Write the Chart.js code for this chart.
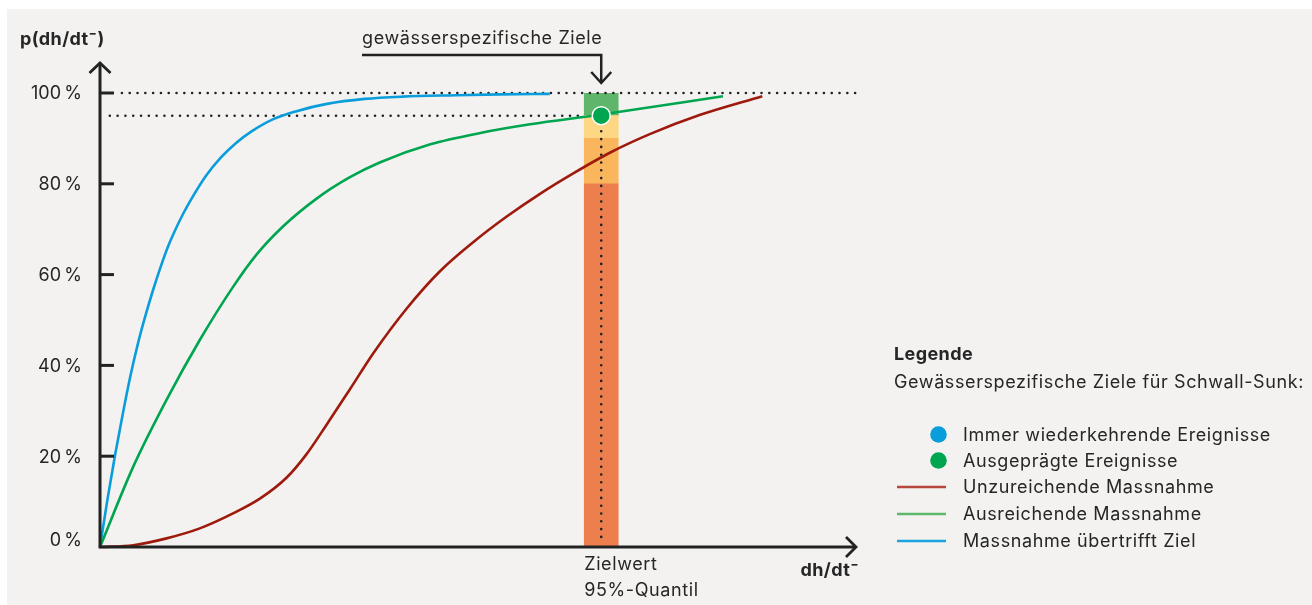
<!DOCTYPE html>
<html>
<head>
<meta charset="utf-8">
<script src="https://cdn.jsdelivr.net/npm/chart.js@4.4.1/dist/chart.umd.min.js"></script>
<style>
  html, body { margin: 0; padding: 0; background: #fff; }
  canvas { display: block; }
</style>
</head>
<body>
<canvas id="grafik" width="1312" height="605"></canvas>
<script>
// Werte (x: 0..100 relative dh/dt-, y: Prozent)
const yTicks = [0, 20, 40, 60, 80, 100];
const yTickLabels = ['0\u2009%', '20\u2009%', '40\u2009%', '60\u2009%', '80\u2009%', '100\u2009%'];

const zielwert = 66.3;
const zielQuantil = 95;
const zielBereiche = [[0, 80], [80, 90], [90, 95], [95, 100]];

const blauX = [0, 1, 2, 3, 4, 5, 6, 7, 8, 9, 10, 11, 12, 14, 16, 18, 20, 23, 26, 30, 35, 40, 47, 53, 59.5];
const blauY = [0, 10.6, 20.3, 29.2, 37.5, 44.7, 50.9, 56.5, 61.6, 66.2, 70.0, 73.4, 76.4, 81.7, 85.8, 89.0, 91.5, 94.3, 96.0, 97.6, 98.7, 99.2, 99.5, 99.7, 99.8];

const gruenX = [0, 4.4, 8.8, 13.2, 17.6, 20.7, 24.2, 28.7, 33.0, 37.0, 43.7, 50.3, 56.9, 66.1, 82.4];
const gruenY = [0, 17.7, 32.4, 45.6, 57.3, 64.4, 70.6, 76.8, 81.4, 84.7, 88.7, 91.2, 93.1, 95.2, 99.3];

const rotX = [0, 4.4, 8.8, 13.2, 17.6, 21.2, 24.7, 27.3, 30.0, 33.0, 36.2, 40.6, 45.0, 49.4, 53.8, 58.2, 62.6, 67.5, 72.8, 79.4, 87.6];
const rotY = [0, 0.4, 1.9, 4.1, 7.4, 10.7, 15.3, 20.4, 27.0, 34.6, 42.8, 52.6, 60.8, 67.2, 72.8, 77.8, 82.3, 86.9, 91.0, 95.2, 99.3];

const legendeTitel = 'Legende';
const legendeUntertitel = 'Gewässerspezifische Ziele für Schwall-Sunk:';
const legendeEintraege = [
  'Immer wiederkehrende Ereignisse',
  'Ausgeprägte Ereignisse',
  'Unzureichende Massnahme',
  'Ausreichende Massnahme',
  'Massnahme übertrifft Ziel'
];

const punkte = (xs, ys) => xs.map((x, i) => ({ x: x, y: ys[i] }));

const FONT = "Inter, 'DejaVu Sans', sans-serif";
const TEXT = '#262626';

const bereichFarben = ['#ed7f4f', '#f9b65c', '#fed785', '#5fb66a'];

const achsenPlugin = {
  id: 'achsen',
  beforeDraw(chart) {
    const ctx = chart.ctx;
    ctx.save();
    ctx.fillStyle = '#ffffff';
    ctx.fillRect(0, 0, chart.width, chart.height);
    ctx.fillStyle = '#f3f2f1';
    ctx.fillRect(7, 9, chart.width - 7, chart.height - 9);
    ctx.restore();
  },
  afterDatasetsDraw(chart) {
    const ctx = chart.ctx;
    const xs = chart.scales.x, ys = chart.scales.y;
    const x0 = xs.getPixelForValue(0), y0 = ys.getPixelForValue(0);
    const yTop = ys.getPixelForValue(100) - 30;
    const xEnd = xs.right;
    const zx = xs.getPixelForValue(zielwert);

    ctx.save();
    ctx.strokeStyle = '#222';
    ctx.fillStyle = TEXT;
    ctx.lineWidth = 3;

    // Achsen
    ctx.beginPath();
    ctx.moveTo(x0, y0 + 1.5);
    ctx.lineTo(x0, yTop);
    ctx.moveTo(x0 - 1.5, y0);
    ctx.lineTo(xEnd, y0);
    ctx.stroke();

    // Pfeilspitzen
    ctx.lineWidth = 2.8;
    ctx.beginPath();
    ctx.moveTo(x0 - 10.5, yTop + 10);
    ctx.lineTo(x0, yTop);
    ctx.lineTo(x0 + 10.5, yTop + 10);
    ctx.moveTo(xEnd - 10, y0 - 10);
    ctx.lineTo(xEnd, y0);
    ctx.lineTo(xEnd - 10, y0 + 10);
    ctx.stroke();

    // Ticks + Beschriftung
    ctx.lineWidth = 3;
    ctx.font = '18px ' + FONT;
    ctx.textAlign = 'right';
    ctx.textBaseline = 'middle';
    yTicks.forEach((v, i) => {
      const py = ys.getPixelForValue(v);
      if (v > 0) {
        ctx.beginPath();
        ctx.moveTo(x0, py);
        ctx.lineTo(x0 + 14, py);
        ctx.stroke();
      }
      ctx.fillText(yTickLabels[i], x0 - 18, v === 0 ? py - 6 : py + 1);
    });

    // Achsentitel
    ctx.letterSpacing = '0.4px';
    ctx.font = 'bold 18px ' + FONT;
    ctx.textAlign = 'left';
    ctx.textBaseline = 'alphabetic';
    ctx.fillText('p(dh/dt\u207B)', 20, 45);
    ctx.textAlign = 'right';
    ctx.fillText('dh/dt\u207B', xEnd + 3, 576);

    // Zielwert-Beschriftung
    ctx.letterSpacing = '0.6px';
    ctx.font = '18px ' + FONT;
    ctx.textAlign = 'left';
    ctx.fillText('Zielwert', zx - 17, 570);
    ctx.fillText('95%-Quantil', zx - 17, 596);

    // Hinweis oben
    ctx.fillText('gewässerspezifische Ziele', 362, 44);
    ctx.lineWidth = 2.5;
    ctx.beginPath();
    ctx.moveTo(362, 55);
    ctx.lineTo(zx, 55);
    ctx.lineTo(zx, 83);
    ctx.moveTo(zx - 10, 72);
    ctx.lineTo(zx, 83);
    ctx.lineTo(zx + 10, 72);
    ctx.stroke();

    // Legende
    const lx = 894;
    ctx.letterSpacing = '0.4px';
    ctx.font = 'bold 18px ' + FONT;
    ctx.fillText(legendeTitel, lx, 360);
    ctx.letterSpacing = '0.6px';
    ctx.font = '18px ' + FONT;
    ctx.fillText(legendeUntertitel, lx, 388);
    const zeilen = [441, 467, 493, 520, 547];
    const symbole = [
      { art: 'punkt', farbe: '#0a9ddb' },
      { art: 'punkt', farbe: '#00a550' },
      { art: 'linie', farbe: '#b8483c' },
      { art: 'linie', farbe: '#5cb86a' },
      { art: 'linie', farbe: '#1aa3dc' }
    ];
    legendeEintraege.forEach((txt, i) => {
      const by = zeilen[i];
      const s = symbole[i];
      if (s.art === 'punkt') {
        ctx.fillStyle = s.farbe;
        ctx.beginPath();
        ctx.arc(938.5, by - 6.5, 8.3, 0, Math.PI * 2);
        ctx.fill();
      } else {
        ctx.strokeStyle = s.farbe;
        ctx.lineWidth = 2.5;
        ctx.beginPath();
        ctx.moveTo(897, by - 6);
        ctx.lineTo(946, by - 6);
        ctx.stroke();
      }
      ctx.fillStyle = TEXT;
      ctx.fillText(txt, 963, by);
    });
    ctx.restore();
  }
};

const balken = zielBereiche.map((b, i) => ({
  type: 'bar',
  data: [{ x: zielwert, y: b }],
  backgroundColor: bereichFarben[i],
  borderWidth: 0,
  barThickness: 34,
  grouped: false,
  order: 10
}));

const punktLinie = (data) => ({
  type: 'line',
  data: data,
  borderColor: '#222',
  borderWidth: 2.6,
  borderDash: [0, 7.8],
  borderCapStyle: 'round',
  pointRadius: 0,
  fill: false,
  clip: false,
  order: 5
});

const kurve = (data, farbe) => ({
  type: 'line',
  data: data,
  borderColor: farbe,
  borderWidth: 2.6,
  cubicInterpolationMode: 'monotone',
  pointRadius: 0,
  fill: false,
  clip: false,
  order: 2
});

new Chart(document.getElementById('grafik'), {
  type: 'line',
  data: {
    datasets: [
      ...balken,
      punktLinie([{ x: 2.9, y: 100 }, { x: 99.9, y: 100 }]),
      punktLinie([{ x: 1.3, y: zielQuantil }, { x: 63.9, y: zielQuantil }]),
      punktLinie([{ x: zielwert, y: zielQuantil }, { x: zielwert, y: 0.8 }]),
      kurve(punkte(rotX, rotY), '#9e1a0d'),
      kurve(punkte(gruenX, gruenY), '#00a54f'),
      kurve(punkte(blauX, blauY), '#0a9ddb'),
      {
        type: 'line',
        data: [{ x: zielwert, y: zielQuantil }],
        showLine: false,
        pointRadius: 9,
        pointBackgroundColor: '#00a550',
        pointBorderColor: '#ffffff',
        pointBorderWidth: 1.5,
        clip: false,
        order: 0
      }
    ]
  },
  options: {
    responsive: false,
    animation: false,
    devicePixelRatio: 1,
    layout: { padding: { left: 100, right: 456, top: 93, bottom: 58 } },
    plugins: { legend: { display: false }, tooltip: { enabled: false } },
    events: [],
    scales: {
      x: { type: 'linear', min: 0, max: 100, display: false, offset: false, grid: { offset: false } },
      y: { type: 'linear', min: 0, max: 100, display: false }
    }
  },
  plugins: [achsenPlugin]
});
</script>
</body>
</html>
